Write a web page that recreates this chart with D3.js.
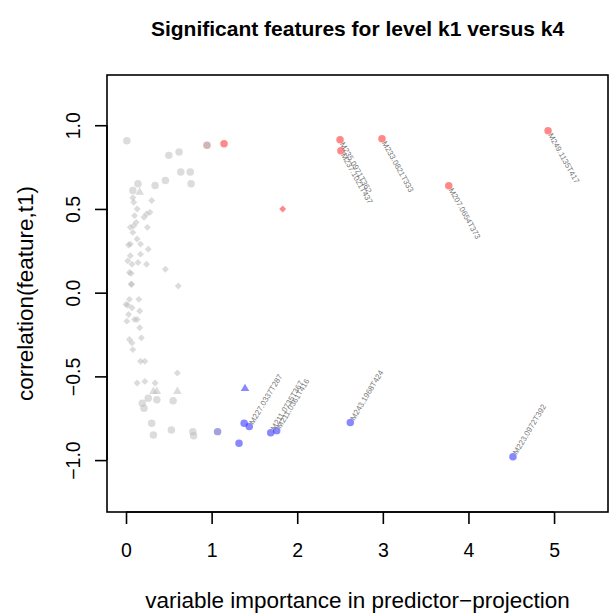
<!DOCTYPE html>
<html><head><meta charset="utf-8">
<script src="https://cdn.jsdelivr.net/npm/d3@7"></script>
<style>body{margin:0;background:#fff}svg{display:block;font-family:"Liberation Sans",Arial,sans-serif}</style>
</head><body>
<svg id="c" width="609" height="613"></svg>
<script>
const title = "Significant features for level k1 versus k4";
const xLabel = "variable importance in predictor\u2212projection";
const yLabel = "correlation(feature,t1)";
const xTicks = [0, 1, 2, 3, 4, 5];
const yTicks = [-1.0, -0.5, 0.0, 0.5, 1.0];

// non-significant features: [vip, correlation]
const greyCircles = [[0.01,0.907],[0.50,0.82],[0.62,0.84],[0.64,0.72],[0.75,0.72],[0.76,0.65],[0.46,0.67],[0.34,0.64],[0.14,0.65],[0.08,0.61],
  [0.26,-0.63],[0.36,-0.64],[0.19,-0.66],[0.21,-0.69],[0.55,-0.645],[0.30,-0.78],[0.32,-0.85],[0.53,-0.82],[0.78,-0.83],[0.79,-0.855]];
const greyDiamonds = [[0.08,0.567],[0.09,0.54],[0.13,0.50],[0.30,0.55],[0.10,0.46],[0.21,0.45],[0.28,0.48],[0.24,0.47],[0.05,0.39],[0.09,0.40],
  [0.12,0.42],[0.25,0.39],[0.08,0.36],[0.13,0.32],[0.17,0.29],[0.05,0.29],[0.03,0.285],[0.26,0.26],[0.05,0.22],[0.17,0.23],
  [0.02,0.19],[0.07,0.17],[0.14,0.18],[0.24,0.17],[0.46,0.14],[0.04,0.12],[0.06,0.115],[0.06,0.05],[0.065,0.05],[0.61,0.04],
  [0.04,-0.04],[0.15,-0.04],[0.0,-0.07],[0.02,-0.075],[0.07,-0.09],[0.16,-0.11],[0.03,-0.13],[0.01,-0.17],[0.10,-0.16],[0.13,-0.16],
  [0.16,-0.21],[0.18,-0.27],[0.04,-0.28],[0.07,-0.30],[0.08,-0.34],[0.17,-0.41],[0.22,-0.41],[0.60,-0.48],[0.13,-0.54],[0.22,-0.53],[0.34,-0.54]];
const greyTriangles = [[0.16,0.60],[0.32,-0.59],[0.36,-0.59],[0.60,-0.59]];

// significant, positive correlation
const redVip   = [1.145, 2.50, 2.51, 2.99, 3.77, 4.93];
const redCor   = [0.890, 0.913, 0.848, 0.919, 0.639, 0.967];
const redNames = ["", "M235.0971T362", "M237.1021T437", "M233.0821T333", "M207.0654T373", "M249.1135T417"];
const redDiamonds = [[1.83, 0.50]];
// significant, negative correlation
const blueVip   = [1.38, 1.44, 1.32, 1.69, 1.76, 2.62, 4.52];
const blueCor   = [-0.78, -0.80, -0.90, -0.836, -0.824, -0.776, -0.98];
const blueNames = ["", "M227.0337T287", "", "M211.0735T367", "M211.0361T416", "M243.1968T424", "M223.0972T392"];
const blueTriangles = [[1.39, -0.573]];
// points with blended colour
const mixedRed = [[0.946, 0.88]];
const mixedBlue = [[1.07, -0.83]];

const svg = d3.select("#c");
const L = 107, R = 608, T = 75, B = 512;
const x = d3.scaleLinear().domain([-0.222, 5.63]).range([L, R]);
const y = d3.scaleLinear().domain([-1.31, 1.30]).range([B, T]);
const FONT = "Liberation Sans, Arial, sans-serif";

svg.append("rect").attr("x", L).attr("y", T).attr("width", R - L).attr("height", B - T)
  .attr("fill", "none").attr("stroke", "#000").attr("stroke-width", 1.6);

// x axis
const xa = svg.append("g").attr("transform", `translate(0,${B})`)
  .call(d3.axisBottom(x).tickValues(xTicks).tickFormat(d3.format("d")).tickSize(12).tickPadding(0));
xa.select(".domain").attr("d", `M${x(xTicks[0])},0H${x(xTicks[xTicks.length-1])}`).attr("stroke-width", 1.6);
xa.selectAll(".tick line").attr("stroke-width", 1.6);
xa.selectAll("text").attr("font-size", 19.5).attr("font-family", FONT).attr("fill", "#000")
  .attr("y", 38).attr("dy", 0).attr("dominant-baseline", "central");

// y axis
const ya = svg.append("g").attr("transform", `translate(${L},0)`)
  .call(d3.axisLeft(y).tickValues(yTicks).tickFormat(d3.format(".1f")).tickSize(12).tickPadding(0));
ya.select(".domain").attr("d", `M0,${y(yTicks[0])}V${y(yTicks[yTicks.length-1])}`).attr("stroke-width", 1.6);
ya.selectAll(".tick line").attr("stroke-width", 1.6);
ya.selectAll("text").attr("font-size", 19.5).attr("font-family", FONT).attr("fill", "#000")
  .attr("x", 0).attr("dy", 0).attr("text-anchor", "middle").attr("dominant-baseline", "central")
  .attr("transform", "translate(-34,0) rotate(-90)")
  .text(d => d3.format(".1f")(d).replace("-", "\u2212"));

svg.append("text").attr("x", (L + R) / 2).attr("y", 28).attr("text-anchor", "middle").attr("dominant-baseline", "central")
  .attr("font-size", 21).attr("font-weight", "bold").text(title);
svg.append("text").attr("x", (L + R) / 2).attr("y", 600).attr("text-anchor", "middle").attr("dominant-baseline", "central")
  .attr("font-size", 22.5).text(xLabel);
svg.append("text").attr("transform", `translate(25,${(T + B) / 2}) rotate(-90)`).attr("text-anchor", "middle")
  .attr("dominant-baseline", "central").attr("font-size", 22.5).text(yLabel);

const grey = "rgba(185,185,185,0.5)", red = "rgba(255,40,40,0.55)", blue = "rgba(40,40,255,0.55)";
const sym = {
  circle: d3.symbol().type(d3.symbolCircle).size(44),
  diamond: d3.symbol().type(d3.symbolSquare).size(24),
  triangle: d3.symbol().type(d3.symbolTriangle).size(32)
};
function pts(data, shape, fill) {
  svg.append("g").selectAll("path").data(data).join("path")
    .attr("transform", d => `translate(${x(d[0])},${y(d[1])})` + (shape === "diamond" ? " rotate(45)" : ""))
    .attr("d", sym[shape]()).attr("fill", fill);
}
pts(greyCircles, "circle", grey);
pts(greyDiamonds, "diamond", grey);
pts(greyTriangles, "triangle", grey);
pts(mixedRed, "circle", "rgba(175,120,120,0.55)");
pts(mixedBlue, "circle", "rgba(100,100,200,0.6)");
pts(redDiamonds, "diamond", red);
pts(blueTriangles, "triangle", blue);
const redPts = redVip.map((v, i) => [v, redCor[i], redNames[i]]);
const bluePts = blueVip.map((v, i) => [v, blueCor[i], blueNames[i]]);
pts(redPts, "circle", red);
pts(bluePts, "circle", blue);

svg.append("g").selectAll("text").data(redPts.filter(d => d[2])).join("text")
  .attr("transform", d => `translate(${x(d[0]) + 2},${y(d[1]) + 3}) rotate(61)`)
  .attr("font-size", 7.8).attr("fill", "#777").attr("dominant-baseline", "central").text(d => d[2]);
svg.append("g").selectAll("text").data(bluePts.filter(d => d[2])).join("text")
  .attr("transform", d => `translate(${x(d[0]) + 2},${y(d[1]) - 3}) rotate(-59)`)
  .attr("font-size", 7.8).attr("fill", "#777").attr("dominant-baseline", "central").text(d => d[2]);
</script>
</body></html>
